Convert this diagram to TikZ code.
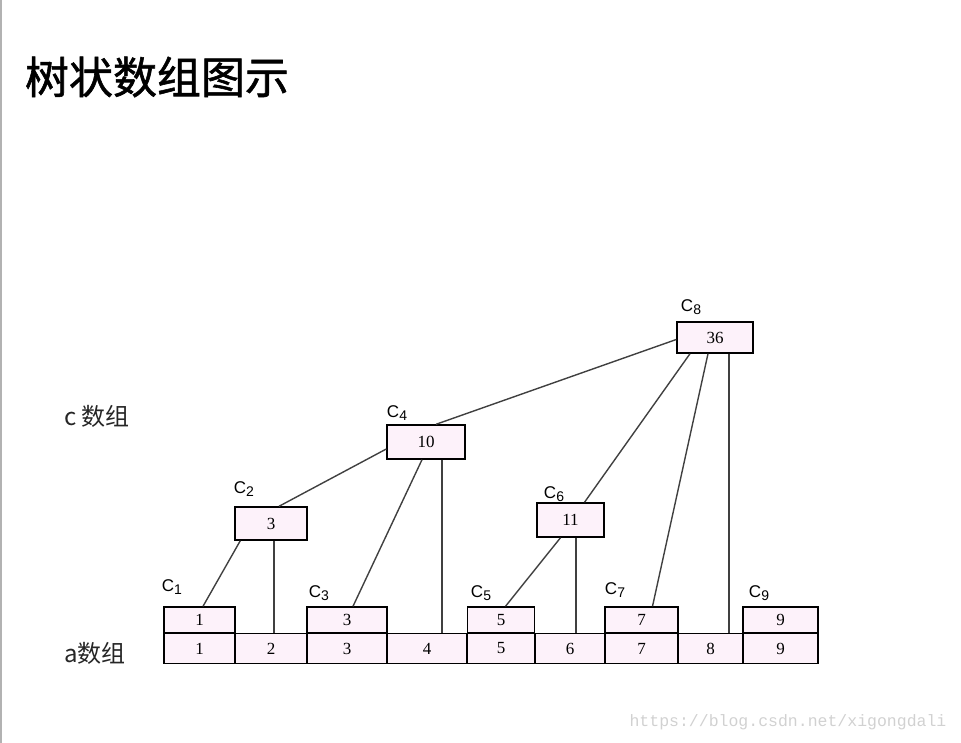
\documentclass[tikz,border=0pt]{standalone}
\usepackage{fontspec}
\setmainfont{Liberation Serif}
\newfontfamily\cjk{Noto Sans CJK SC}
\newfontfamily\cjktitle[FakeBold=1.3]{Noto Sans CJK SC}
\newfontfamily\lblfont{Liberation Sans}
\newfontfamily\urlfont{Liberation Mono}
\usetikzlibrary{calc}
\definecolor{cellpink}{RGB}{253,242,250}
\newcommand{\cname}[1]{C\raisebox{-3pt}{\fontsize{14}{14}\selectfont #1}}
\tikzset{
    cell/.style={draw, line width=1.4, fill=cellpink, inner sep=0, font=\fontsize{17}{17}\selectfont},
    link/.style={line width=1.4, black!75},
    cname/.style={font=\lblfont\fontsize{17}{17}\selectfont, inner sep=0},
}
\begin{document}
\begin{tikzpicture}[x=1pt, y=-1pt]
\useasboundingbox (0,0) rectangle (961,743);
\draw[gray!60, line width=2] (1,0)--(1,743);
\node (title) at (157,77){\cjktitle\fontsize{44}{44}\selectfont 树状数组图示};
\node (cname) at (97,416)[font=\cjk\fontsize{24}{24}\selectfont, text=black!85]{c 数组};
\node (aname) at (95,653)[font=\cjk\fontsize{24}{24}\selectfont, text=black!85]{a数组};

% a row
\foreach \l/\r [count=\i] in {164/235,235/307,307/387,387/467,467/535,535/605,605/678,678/743,743/818}
{
    \node[cell, minimum width=\r-\l, minimum height=30] (a\i) at ({(\l+\r)/2},648.5){\i};
}
% c boxes on the a row
\node (c1) at (199.5,620)[cell, minimum width=71, minimum height=26]{1};
\node (c3) at (347,620)[cell, minimum width=80, minimum height=26]{3};
\node (c5) at (501,620)[cell, minimum width=67, minimum height=26]{5};
\node (c7) at (641.5,620)[cell, minimum width=73, minimum height=26]{7};
\node (c9) at (780.5,620)[cell, minimum width=75, minimum height=26]{9};
% upper c boxes
\node (c2) at (271,523.5)[cell, minimum width=72, minimum height=33]{3};
\node (c4) at (426,442)[cell, minimum width=78, minimum height=34]{10};
\node (c6) at (570.5,520)[cell, minimum width=67, minimum height=34]{11};
\node (c8) at (715,337.5)[cell, minimum width=76, minimum height=31]{36};

\node (lc1) at (172,587)[cname]{\cname{1}};
\node (lc2) at (244,489)[cname]{\cname{2}};
\node (lc3) at (319,593)[cname]{\cname{3}};
\node (lc4) at (397,413)[cname]{\cname{4}};
\node (lc5) at (481,593)[cname]{\cname{5}};
\node (lc6) at (554,494)[cname]{\cname{6}};
\node (lc7) at (615,590)[cname]{\cname{7}};
\node (lc8) at (691,307)[cname]{\cname{8}};
\node (lc9) at (759,593)[cname]{\cname{9}};

% links
\draw[link] ($(c2.south west)+(6,0)$)--($(c1.north)+(3.5,0)$);
\draw[link] ($(c4.west)+(0,7)$)--($(c2.north)+(8,0)$);
\draw[link] ($(c4.south)+(-4,0)$)--($(c3.north)+(6,0)$);
\draw[link] ($(c8.west)+(0,2)$)--($(c4.north)+(10,0)$);
\draw[link] ($(c6.south)+(-10,0)$)--($(c5.north)+(4.5,0)$);
\draw[link] ($(c8.south)+(-25,0)$)--($(c6.north)+(14,0)$);
\draw[link] ($(c8.south)+(-7,0)$)--($(c7.north)+(11,0)$);
\foreach \c/\a/\dx in {c2/a2/3,c4/a4/16,c6/a6/5.5,c8/a8/14}
{
    \coordinate (v\c) at ($(\c.south)+(\dx,0)$);
    \draw[link] (v\c)--(v\c |- \a.north);
}

\node (url) at (788,722)[font=\urlfont\fontsize{16.5}{16.5}\selectfont, text=black!18]{https://blog.csdn.net/xigongdali};
\end{tikzpicture}
\end{document}
